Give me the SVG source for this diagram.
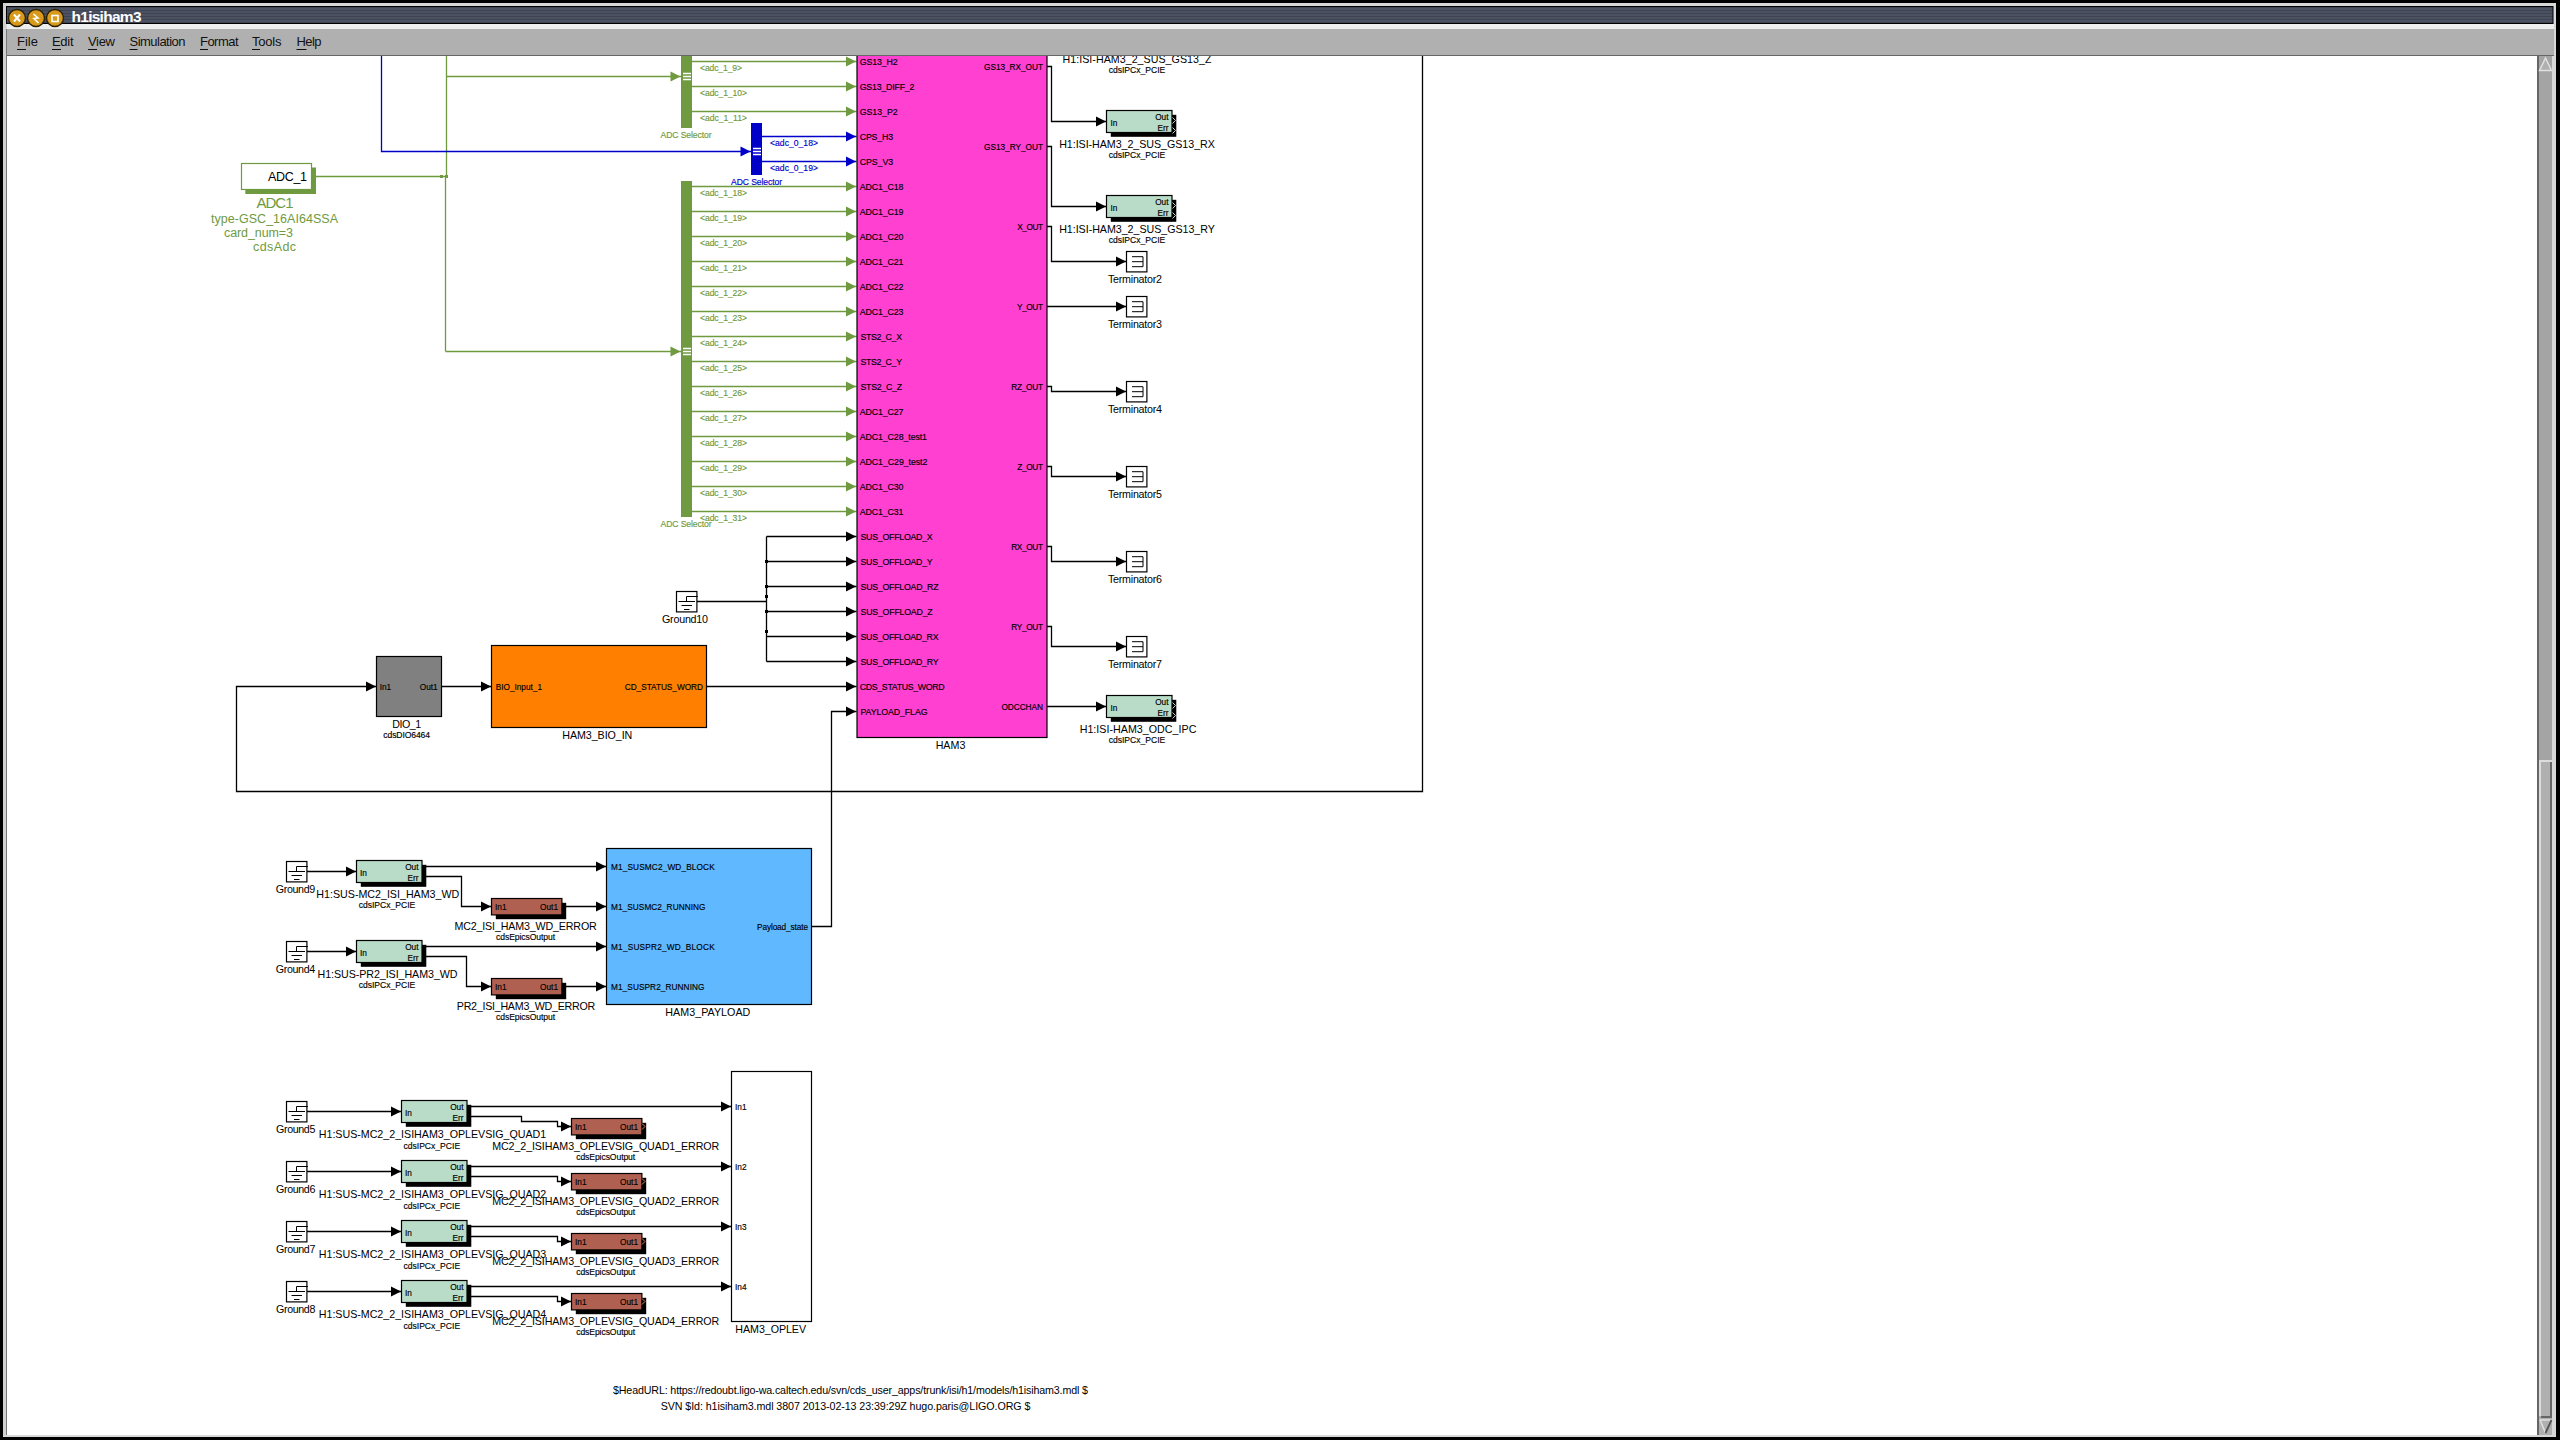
<svg xmlns="http://www.w3.org/2000/svg" width="2560" height="1440" viewBox="0 0 2560 1440">
<style>
text{font-family:"Liberation Sans",Arial,sans-serif;fill:#000}
.p{font-size:8.8px;stroke:#000;stroke-width:.15}
.r,g[transform] .p,#DIO_1 .p,#HAM3_OPLEV .p,#HAM3_BIO_IN .p,#HAM3_PAYLOAD .p{font-size:8.25px}
.m{font-size:8.6px;stroke:#000;stroke-width:.15}
.l{font-size:10.7px}
.e{text-anchor:end}
.c{text-anchor:middle}
.g{fill:#6f9a40}
.b{fill:#0000c8}
.gl{font-size:8.6px;fill:#6f9a40;stroke:#6f9a40;stroke-width:.15}
.bl{font-size:8.6px;fill:#0000c8;stroke:#0000c8;stroke-width:.15}
.w,.wg,.wb{fill:none;stroke-width:1.3}
.w{stroke:#000}
.wg{stroke:#6f9a40}
.wb{stroke:#0000c8}
.bx{stroke:#000;stroke-width:1.2}
.sym{fill:none;stroke:#000;stroke-width:1}
.chev{fill:none;stroke-width:1}
.menu{font-size:13px;fill:#111}
</style>
<defs>
<marker id="ab" markerUnits="userSpaceOnUse" markerWidth="12" markerHeight="11" refX="11" refY="5.5" orient="auto"><path d="M0.5,0.5 L10.5,5.5 L0.5,10.5 z" fill="#000"/></marker>
<marker id="ag" markerUnits="userSpaceOnUse" markerWidth="12" markerHeight="11" refX="11" refY="5.5" orient="auto"><path d="M0.5,0.5 L10.5,5.5 L0.5,10.5 z" fill="#6f9a40"/></marker>
<marker id="ac" markerUnits="userSpaceOnUse" markerWidth="12" markerHeight="11" refX="11" refY="5.5" orient="auto"><path d="M0.5,0.5 L10.5,5.5 L0.5,10.5 z" fill="#0000c8"/></marker>
<pattern id="stripes" width="4" height="3" patternUnits="userSpaceOnUse"><rect width="4" height="3" fill="#4c5262"/><rect y="1" width="4" height="1" fill="#3e4352"/></pattern>
<g id="ipcShape"><rect x="4.3" y="4.3" width="65.5" height="22" fill="#000"/><rect width="65.5" height="22" fill="#b8dcc8" class="bx"/></g>
<g id="redShape"><rect x="4.3" y="4.3" width="70.4" height="16.4" fill="#000"/><rect width="70.4" height="16.4" fill="#b06050" class="bx"/></g>
<g id="groundShape"><rect width="20.4" height="20.4" fill="#fff" class="bx"/><path class="sym" d="M21.4,5H10V10M2,10H18.5M5,14H15.5M7.5,18H13"/></g>
<g id="termShape"><rect width="20.4" height="20.4" fill="#fff" class="bx"/><path class="sym" d="M5.5,5.2H16.5V15.2H5.5M5.5,10.2H16.5"/></g>
<g id="chevOut"><path class="chev" stroke="#ccc" d="M66,7l3,3l-3,3M66,17l3,3l-3,3"/></g>
</defs>
<rect width="2560" height="1440" fill="#fff"/>

<g id="connectors">
<path class="wg" d="M446.5,50V176.5"/>
<path class="wg" d="M445.5,176.5V351.5" />
<path class="wg" d="M316,176.5H446.5"/>
<path class="wg" d="M446.5,76.5H681" marker-end="url(#ag)"/>
<path class="wg" d="M445.5,351.5H681" marker-end="url(#ag)"/>
<rect x="440" y="175" width="3" height="3" class="g"/><rect x="445" y="175" width="3" height="3" class="g"/>
<path class="wb" d="M381.5,50V151.5H751" marker-end="url(#ac)"/>
<path class="wg" d="M692,61.5H856.5" marker-end="url(#ag)"/>
<path class="wg" d="M692,86.5H856.5" marker-end="url(#ag)"/>
<path class="wg" d="M692,111.5H856.5" marker-end="url(#ag)"/>
<path class="wb" d="M761.5,136.5H856.5" marker-end="url(#ac)"/>
<path class="wb" d="M761.5,161.5H856.5" marker-end="url(#ac)"/>
<path class="wg" d="M692,186.5H856.5" marker-end="url(#ag)"/>
<path class="wg" d="M692,211.5H856.5" marker-end="url(#ag)"/>
<path class="wg" d="M692,236.5H856.5" marker-end="url(#ag)"/>
<path class="wg" d="M692,261.5H856.5" marker-end="url(#ag)"/>
<path class="wg" d="M692,286.5H856.5" marker-end="url(#ag)"/>
<path class="wg" d="M692,311.5H856.5" marker-end="url(#ag)"/>
<path class="wg" d="M692,336.5H856.5" marker-end="url(#ag)"/>
<path class="wg" d="M692,361.5H856.5" marker-end="url(#ag)"/>
<path class="wg" d="M692,386.5H856.5" marker-end="url(#ag)"/>
<path class="wg" d="M692,411.5H856.5" marker-end="url(#ag)"/>
<path class="wg" d="M692,436.5H856.5" marker-end="url(#ag)"/>
<path class="wg" d="M692,461.5H856.5" marker-end="url(#ag)"/>
<path class="wg" d="M692,486.5H856.5" marker-end="url(#ag)"/>
<path class="wg" d="M692,511.5H856.5" marker-end="url(#ag)"/>
<path class="w" d="M697,601.5H766.5"/>
<path class="w" d="M766.5,536.5V661.5"/>
<path class="w" d="M766.5,536.5H856.5" marker-end="url(#ab)"/>
<path class="w" d="M766.5,561.5H856.5" marker-end="url(#ab)"/>
<path class="w" d="M766.5,586.5H856.5" marker-end="url(#ab)"/>
<path class="w" d="M766.5,611.5H856.5" marker-end="url(#ab)"/>
<path class="w" d="M766.5,636.5H856.5" marker-end="url(#ab)"/>
<path class="w" d="M766.5,661.5H856.5" marker-end="url(#ab)"/>
<rect x="765" y="560" width="3" height="3"/><rect x="765" y="585" width="3" height="3"/><rect x="765" y="595" width="3" height="3"/><rect x="765" y="610" width="3" height="3"/><rect x="765" y="630" width="3" height="3"/>
<path class="w" d="M706.5,686.5H856.5" marker-end="url(#ab)"/>
<path class="w" d="M811.5,926.5H831.5V711.5H856.5" marker-end="url(#ab)"/>
<path class="w" d="M441.5,686.5H491.5" marker-end="url(#ab)"/>
<path class="w" d="M1422.5,50V791.5H236.5V686.5H376.5" marker-end="url(#ab)"/>
<path class="w" d="M1047,66.5H1051.5V121.5H1106.5" marker-end="url(#ab)"/>
<path class="w" d="M1047,146.5H1051.5V206.5H1106.5" marker-end="url(#ab)"/>
<path class="w" d="M1047,226.5H1051.5V261.5H1126.5" marker-end="url(#ab)"/>
<path class="w" d="M1047,306.5H1126.5" marker-end="url(#ab)"/>
<path class="w" d="M1047,386.5H1051.5V391.5H1126.5" marker-end="url(#ab)"/>
<path class="w" d="M1047,466.5H1051.5V476.5H1126.5" marker-end="url(#ab)"/>
<path class="w" d="M1047,546.5H1051.5V561.5H1126.5" marker-end="url(#ab)"/>
<path class="w" d="M1047,626.5H1051.5V646.5H1126.5" marker-end="url(#ab)"/>
<path class="w" d="M1047,706.5H1106.5" marker-end="url(#ab)"/>
<path class="w" d="M307,871.5H356.5" marker-end="url(#ab)"/>
<path class="w" d="M426,866.5H606.5" marker-end="url(#ab)"/>
<path class="w" d="M426,876.5H461.5V906.5H491.5" marker-end="url(#ab)"/>
<path class="w" d="M566,906.5H606.5" marker-end="url(#ab)"/>
<path class="w" d="M307,951.5H356.5" marker-end="url(#ab)"/>
<path class="w" d="M426,946.5H606.5" marker-end="url(#ab)"/>
<path class="w" d="M426,956.5H466.5V986.5H491.5" marker-end="url(#ab)"/>
<path class="w" d="M566,986.5H606.5" marker-end="url(#ab)"/>
<path class="w" d="M307,1111.5H401.5" marker-end="url(#ab)"/>
<path class="w" d="M471,1106.5H731.5" marker-end="url(#ab)"/>
<path class="w" d="M471,1116.5H521.5V1121.5H557.5V1126.5H571.5" marker-end="url(#ab)"/>
<path class="w" d="M307,1171.5H401.5" marker-end="url(#ab)"/>
<path class="w" d="M471,1166.5H731.5" marker-end="url(#ab)"/>
<path class="w" d="M471,1176.5H557.5V1181.5H571.5" marker-end="url(#ab)"/>
<path class="w" d="M307,1231.5H401.5" marker-end="url(#ab)"/>
<path class="w" d="M471,1226.5H731.5" marker-end="url(#ab)"/>
<path class="w" d="M471,1236.5H557.5V1241.5H571.5" marker-end="url(#ab)"/>
<path class="w" d="M307,1291.5H401.5" marker-end="url(#ab)"/>
<path class="w" d="M471,1286.5H731.5" marker-end="url(#ab)"/>
<path class="w" d="M471,1296.5H557.5V1301.5H571.5" marker-end="url(#ab)"/>
</g>

<g id="ADC1">
<rect x="245.3" y="167.5" width="70.7" height="26.5" class="g"/>
<rect x="241.5" y="163.5" width="70" height="26" fill="#fff" stroke="#6f9a40" stroke-width="1.2"/>
<text x="307" y="181" font-size="12.5" class="e" textLength="39">ADC_1</text>
<text x="275" y="208" font-size="15" class="c" style="fill:#6f9a40" textLength="37">ADC1</text>
<text x="211" y="222.5" font-size="12.5" style="fill:#6f9a40" textLength="127">type-GSC_16AI64SSA</text>
<text x="224" y="236.5" font-size="12.5" style="fill:#6f9a40" textLength="69">card_num=3</text>
<text x="253" y="250.5" font-size="12.5" style="fill:#6f9a40" textLength="43">cdsAdc</text>
</g>

<g id="selector1">
<rect x="681" y="50" width="11" height="78" class="g"/>
<path d="M683,73.5H691M683,76.5H691M683,79.5H691" stroke="#fff" stroke-width="1.4"/>
<text class="gl" x="700" y="70.5" textLength="42">&lt;adc_1_9&gt;</text>
<text class="gl" x="700" y="95.5" textLength="47">&lt;adc_1_10&gt;</text>
<text class="gl" x="700" y="120.5" textLength="47">&lt;adc_1_11&gt;</text>
<text class="gl c" x="686" y="138" textLength="51">ADC Selector</text>
</g>
<g id="selector2">
<rect x="751" y="123" width="11" height="52" class="b"/>
<path d="M753,148.5H761M753,151.5H761M753,154.5H761" stroke="#fff" stroke-width="1.4"/>
<text class="bl" x="770" y="145.5" textLength="48">&lt;adc_0_18&gt;</text>
<text class="bl" x="770" y="170.5" textLength="48">&lt;adc_0_19&gt;</text>
<text class="bl c" x="756.5" y="185" textLength="51">ADC Selector</text>
</g>
<g id="selector3">
<rect x="681" y="181" width="11" height="336" class="g"/>
<path d="M683,348.5H691M683,351.5H691M683,354.5H691" stroke="#fff" stroke-width="1.4"/>
<text class="gl" x="700" y="195.5" textLength="47">&lt;adc_1_18&gt;</text>
<text class="gl" x="700" y="220.5" textLength="47">&lt;adc_1_19&gt;</text>
<text class="gl" x="700" y="245.5" textLength="47">&lt;adc_1_20&gt;</text>
<text class="gl" x="700" y="270.5" textLength="47">&lt;adc_1_21&gt;</text>
<text class="gl" x="700" y="295.5" textLength="47">&lt;adc_1_22&gt;</text>
<text class="gl" x="700" y="320.5" textLength="47">&lt;adc_1_23&gt;</text>
<text class="gl" x="700" y="345.5" textLength="47">&lt;adc_1_24&gt;</text>
<text class="gl" x="700" y="370.5" textLength="47">&lt;adc_1_25&gt;</text>
<text class="gl" x="700" y="395.5" textLength="47">&lt;adc_1_26&gt;</text>
<text class="gl" x="700" y="420.5" textLength="47">&lt;adc_1_27&gt;</text>
<text class="gl" x="700" y="445.5" textLength="47">&lt;adc_1_28&gt;</text>
<text class="gl" x="700" y="470.5" textLength="47">&lt;adc_1_29&gt;</text>
<text class="gl" x="700" y="495.5" textLength="47">&lt;adc_1_30&gt;</text>
<text class="gl" x="700" y="520.5" textLength="47">&lt;adc_1_31&gt;</text>
<text class="gl c" x="686" y="527" textLength="51">ADC Selector</text>
</g>

<g id="HAM3">
<rect x="857" y="40" width="190" height="697.5" fill="#ff40d0" class="bx"/>
<text class="p" x="859.7" y="65" textLength="38">GS13_H2</text>
<text class="p" x="859.7" y="90" textLength="54.7">GS13_DIFF_2</text>
<text class="p" x="859.7" y="115" textLength="38">GS13_P2</text>
<text class="p" x="859.7" y="140" textLength="33.5">CPS_H3</text>
<text class="p" x="859.7" y="165" textLength="33.5">CPS_V3</text>
<text class="p" x="859.7" y="190" textLength="43.7">ADC1_C18</text>
<text class="p" x="859.7" y="215" textLength="43.7">ADC1_C19</text>
<text class="p" x="859.7" y="240" textLength="43.7">ADC1_C20</text>
<text class="p" x="859.7" y="265" textLength="43.7">ADC1_C21</text>
<text class="p" x="859.7" y="290" textLength="43.7">ADC1_C22</text>
<text class="p" x="859.7" y="315" textLength="43.7">ADC1_C23</text>
<text class="p" x="860.5" y="340" textLength="41.5">STS2_C_X</text>
<text class="p" x="860.5" y="365" textLength="41.5">STS2_C_Y</text>
<text class="p" x="860.5" y="390" textLength="41.5">STS2_C_Z</text>
<text class="p" x="859.7" y="415" textLength="43.7">ADC1_C27</text>
<text class="p" x="859.7" y="440" textLength="67.3">ADC1_C28_test1</text>
<text class="p" x="859.7" y="465" textLength="67.7">ADC1_C29_test2</text>
<text class="p" x="859.7" y="490" textLength="43.7">ADC1_C30</text>
<text class="p" x="859.7" y="515" textLength="43.7">ADC1_C31</text>
<text class="p" x="860.5" y="540" textLength="72.2">SUS_OFFLOAD_X</text>
<text class="p" x="860.5" y="565" textLength="72.2">SUS_OFFLOAD_Y</text>
<text class="p" x="860.5" y="590" textLength="78">SUS_OFFLOAD_RZ</text>
<text class="p" x="860.5" y="615" textLength="72.2">SUS_OFFLOAD_Z</text>
<text class="p" x="860.5" y="640" textLength="78">SUS_OFFLOAD_RX</text>
<text class="p" x="860.5" y="665" textLength="78">SUS_OFFLOAD_RY</text>
<text class="p" x="859.7" y="690" textLength="85">CDS_STATUS_WORD</text>
<text class="p" x="860.5" y="715" textLength="67">PAYLOAD_FLAG</text>
<text class="p r e" x="1043" y="70.2" textLength="59">GS13_RX_OUT</text>
<text class="p r e" x="1043" y="150" textLength="59">GS13_RY_OUT</text>
<text class="p r e" x="1043" y="230.2" textLength="25.7">X_OUT</text>
<text class="p r e" x="1043" y="310" textLength="26">Y_OUT</text>
<text class="p r e" x="1043" y="390" textLength="31.8">RZ_OUT</text>
<text class="p r e" x="1043" y="470" textLength="25.7">Z_OUT</text>
<text class="p r e" x="1043" y="550" textLength="31.8">RX_OUT</text>
<text class="p r e" x="1043" y="630" textLength="31.8">RY_OUT</text>
<text class="p r e" x="1043" y="710" textLength="41.6">ODCCHAN</text>
<text class="l c" x="950.5" y="749">HAM3</text>
</g>

<g id="IPC_GS13_Z">
<text class="l c" x="1137" y="63.3" textLength="149">H1:ISI-HAM3_2_SUS_GS13_Z</text>
<text class="m c" x="1137" y="73" textLength="56.7">cdsIPCx_PCIE</text>
</g>
<g id="IPC_GS13_RX" transform="translate(1106.5 110.5)">
<use href="#ipcShape"/><use href="#chevOut"/>
<text class="p" x="4" y="15">In</text><text class="p e" x="62" y="9.5">Out</text><text class="p e" x="62" y="20">Err</text>
<text class="l c" x="30.5" y="37.5" textLength="155.7">H1:ISI-HAM3_2_SUS_GS13_RX</text>
<text class="m c" x="30.5" y="47" textLength="56.7">cdsIPCx_PCIE</text>
</g>
<g id="IPC_GS13_RY" transform="translate(1106.5 195.5)">
<use href="#ipcShape"/><use href="#chevOut"/>
<text class="p" x="4" y="15">In</text><text class="p e" x="62" y="9.5">Out</text><text class="p e" x="62" y="20">Err</text>
<text class="l c" x="30.5" y="37.5" textLength="155.7">H1:ISI-HAM3_2_SUS_GS13_RY</text>
<text class="m c" x="30.5" y="47" textLength="56.7">cdsIPCx_PCIE</text>
</g>
<g id="IPC_ODC" transform="translate(1106.5 695.5)">
<use href="#ipcShape"/><use href="#chevOut"/>
<text class="p" x="4" y="15">In</text><text class="p e" x="62" y="9.5">Out</text><text class="p e" x="62" y="20">Err</text>
<text class="l c" x="31.5" y="37.5" textLength="116.7">H1:ISI-HAM3_ODC_IPC</text>
<text class="m c" x="30.5" y="47.5" textLength="56.7">cdsIPCx_PCIE</text>
</g>

<g id="Terminator2" transform="translate(1126.5 251.5)"><use href="#termShape"/><text class="l c" x="8.5" y="31.5" textLength="54">Terminator2</text></g>
<g id="Terminator3" transform="translate(1126.5 296.5)"><use href="#termShape"/><text class="l c" x="8.5" y="31.5" textLength="54">Terminator3</text></g>
<g id="Terminator4" transform="translate(1126.5 381.5)"><use href="#termShape"/><text class="l c" x="8.5" y="31.5" textLength="54">Terminator4</text></g>
<g id="Terminator5" transform="translate(1126.5 466.5)"><use href="#termShape"/><text class="l c" x="8.5" y="31.5" textLength="54">Terminator5</text></g>
<g id="Terminator6" transform="translate(1126.5 551.5)"><use href="#termShape"/><text class="l c" x="8.5" y="31.5" textLength="54">Terminator6</text></g>
<g id="Terminator7" transform="translate(1126.5 636.5)"><use href="#termShape"/><text class="l c" x="8.5" y="31.5" textLength="54">Terminator7</text></g>

<g id="Ground10" transform="translate(676.5 591.5)"><use href="#groundShape"/><text class="l c" x="8.5" y="31.5" textLength="46">Ground10</text></g>

<g id="DIO_1">
<rect x="376.5" y="656.5" width="65" height="60" fill="#808080" class="bx"/>
<text class="p" x="379.7" y="690">In1</text><text class="p e" x="437.7" y="690">Out1</text>
<text class="l c" x="406.7" y="728" textLength="29">DIO_1</text>
<text class="m c" x="406.7" y="738" textLength="46.7">cdsDIO6464</text>
</g>
<g id="HAM3_BIO_IN">
<rect x="491.5" y="645.5" width="215" height="82" fill="#ff8000" class="bx"/>
<text class="p" x="495.7" y="690" textLength="46.3">BIO_Input_1</text>
<text class="p e" x="703" y="690" textLength="78.3">CD_STATUS_WORD</text>
<text class="l c" x="597.3" y="739" textLength="70">HAM3_BIO_IN</text>
</g>

<g id="Ground9" transform="translate(286.5 861.5)"><use href="#groundShape"/><text class="l c" x="9" y="31.5" textLength="39.3">Ground9</text></g>
<g id="IPC_MC2_WD" transform="translate(356.5 860.5)">
<use href="#ipcShape"/>
<text class="p" x="3.5" y="15">In</text><text class="p e" x="62" y="9.5">Out</text><text class="p e" x="62" y="20">Err</text>
<text class="l c" x="31.3" y="37.5" textLength="143">H1:SUS-MC2_ISI_HAM3_WD</text>
<text class="m c" x="30.5" y="47.5" textLength="56.7">cdsIPCx_PCIE</text>
</g>
<g id="MC2_ISI_HAM3_WD_ERROR" transform="translate(491.5 898.5)">
<use href="#redShape"/>
<text class="p" x="3.5" y="11.5">In1</text><text class="p e" x="66.5" y="11.5">Out1</text>
<text class="l c" x="34.1" y="31.5" textLength="142.4">MC2_ISI_HAM3_WD_ERROR</text>
<text class="m c" x="34.1" y="41.5" textLength="59">cdsEpicsOutput</text>
</g>
<g id="Ground4" transform="translate(286.5 941.5)"><use href="#groundShape"/><text class="l c" x="9" y="31.5" textLength="39.3">Ground4</text></g>
<g id="IPC_PR2_WD" transform="translate(356.5 940.5)">
<use href="#ipcShape"/>
<text class="p" x="3.5" y="15">In</text><text class="p e" x="62" y="9.5">Out</text><text class="p e" x="62" y="20">Err</text>
<text class="l c" x="31" y="37.5" textLength="140">H1:SUS-PR2_ISI_HAM3_WD</text>
<text class="m c" x="30.5" y="47.5" textLength="56.7">cdsIPCx_PCIE</text>
</g>
<g id="PR2_ISI_HAM3_WD_ERROR" transform="translate(491.5 978.5)">
<use href="#redShape"/>
<text class="p" x="3.5" y="11.5">In1</text><text class="p e" x="66.5" y="11.5">Out1</text>
<text class="l c" x="34.5" y="31.5" textLength="138.5">PR2_ISI_HAM3_WD_ERROR</text>
<text class="m c" x="34.1" y="41.5" textLength="59">cdsEpicsOutput</text>
</g>
<g id="HAM3_PAYLOAD">
<rect x="606.5" y="848.5" width="205" height="156" fill="#60b8ff" class="bx"/>
<text class="p" x="611" y="870.2" textLength="103.7">M1_SUSMC2_WD_BLOCK</text>
<text class="p" x="611" y="910.2" textLength="94.5">M1_SUSMC2_RUNNING</text>
<text class="p" x="611" y="950.2" textLength="103.7">M1_SUSPR2_WD_BLOCK</text>
<text class="p" x="611" y="990.2" textLength="93.5">M1_SUSPR2_RUNNING</text>
<text class="p e" x="808" y="930.2" textLength="51">Payload_state</text>
<text class="l c" x="707.8" y="1016" textLength="85">HAM3_PAYLOAD</text>
</g>

<g id="Ground5" transform="translate(286.5 1101.5)"><use href="#groundShape"/><text class="l c" x="9.2" y="31.5" textLength="39.3">Ground5</text></g>
<g id="Ground6" transform="translate(286.5 1161.5)"><use href="#groundShape"/><text class="l c" x="9.2" y="31.5" textLength="39.3">Ground6</text></g>
<g id="Ground7" transform="translate(286.5 1221.5)"><use href="#groundShape"/><text class="l c" x="9.2" y="31.5" textLength="39.3">Ground7</text></g>
<g id="Ground8" transform="translate(286.5 1281.5)"><use href="#groundShape"/><text class="l c" x="9.2" y="31.5" textLength="39.3">Ground8</text></g>

<g id="IPC_QUAD1" transform="translate(401.5 1100.5)">
<use href="#ipcShape"/>
<text class="p" x="3.5" y="15">In</text><text class="p e" x="62" y="9.5">Out</text><text class="p e" x="62" y="20">Err</text>
<text class="l c" x="31" y="37.5" textLength="227.5">H1:SUS-MC2_2_ISIHAM3_OPLEVSIG_QUAD1</text>
<text class="m c" x="30.3" y="48" textLength="56.7">cdsIPCx_PCIE</text>
</g>
<g id="IPC_QUAD2" transform="translate(401.5 1160.5)">
<use href="#ipcShape"/>
<text class="p" x="3.5" y="15">In</text><text class="p e" x="62" y="9.5">Out</text><text class="p e" x="62" y="20">Err</text>
<text class="l c" x="31" y="37.5" textLength="227.5">H1:SUS-MC2_2_ISIHAM3_OPLEVSIG_QUAD2</text>
<text class="m c" x="30.3" y="48" textLength="56.7">cdsIPCx_PCIE</text>
</g>
<g id="IPC_QUAD3" transform="translate(401.5 1220.5)">
<use href="#ipcShape"/>
<text class="p" x="3.5" y="15">In</text><text class="p e" x="62" y="9.5">Out</text><text class="p e" x="62" y="20">Err</text>
<text class="l c" x="31" y="37.5" textLength="227.5">H1:SUS-MC2_2_ISIHAM3_OPLEVSIG_QUAD3</text>
<text class="m c" x="30.3" y="48" textLength="56.7">cdsIPCx_PCIE</text>
</g>
<g id="IPC_QUAD4" transform="translate(401.5 1280.5)">
<use href="#ipcShape"/>
<text class="p" x="3.5" y="15">In</text><text class="p e" x="62" y="9.5">Out</text><text class="p e" x="62" y="20">Err</text>
<text class="l c" x="31" y="37.5" textLength="227.5">H1:SUS-MC2_2_ISIHAM3_OPLEVSIG_QUAD4</text>
<text class="m c" x="30.3" y="48" textLength="56.7">cdsIPCx_PCIE</text>
</g>

<g id="ERR_QUAD1" transform="translate(571.5 1118.5)">
<use href="#redShape"/><path class="chev" stroke="#e08060" d="M70.5,5l3,3l-3,3"/>
<text class="p" x="3.5" y="11.5">In1</text><text class="p e" x="66.5" y="11.5">Out1</text>
<text class="l c" x="34.2" y="31.5" textLength="227">MC2_2_ISIHAM3_OPLEVSIG_QUAD1_ERROR</text>
<text class="m c" x="34.2" y="41" textLength="59">cdsEpicsOutput</text>
</g>
<g id="ERR_QUAD2" transform="translate(571.5 1173.5)">
<use href="#redShape"/><path class="chev" stroke="#e08060" d="M70.5,5l3,3l-3,3"/>
<text class="p" x="3.5" y="11.5">In1</text><text class="p e" x="66.5" y="11.5">Out1</text>
<text class="l c" x="34.2" y="31.5" textLength="227">MC2_2_ISIHAM3_OPLEVSIG_QUAD2_ERROR</text>
<text class="m c" x="34.2" y="41" textLength="59">cdsEpicsOutput</text>
</g>
<g id="ERR_QUAD3" transform="translate(571.5 1233.5)">
<use href="#redShape"/><path class="chev" stroke="#e08060" d="M70.5,5l3,3l-3,3"/>
<text class="p" x="3.5" y="11.5">In1</text><text class="p e" x="66.5" y="11.5">Out1</text>
<text class="l c" x="34.2" y="31.5" textLength="227">MC2_2_ISIHAM3_OPLEVSIG_QUAD3_ERROR</text>
<text class="m c" x="34.2" y="41" textLength="59">cdsEpicsOutput</text>
</g>
<g id="ERR_QUAD4" transform="translate(571.5 1293.5)">
<use href="#redShape"/><path class="chev" stroke="#e08060" d="M70.5,5l3,3l-3,3"/>
<text class="p" x="3.5" y="11.5">In1</text><text class="p e" x="66.5" y="11.5">Out1</text>
<text class="l c" x="34.2" y="31.5" textLength="227">MC2_2_ISIHAM3_OPLEVSIG_QUAD4_ERROR</text>
<text class="m c" x="34.2" y="41" textLength="59">cdsEpicsOutput</text>
</g>

<g id="HAM3_OPLEV">
<rect x="731.5" y="1071.5" width="80" height="250" fill="#fff" class="bx"/>
<text class="p" x="735" y="1110">In1</text>
<text class="p" x="735" y="1170">In2</text>
<text class="p" x="735" y="1230">In3</text>
<text class="p" x="735" y="1290">In4</text>
<text class="l c" x="770.7" y="1333" textLength="70.7">HAM3_OPLEV</text>
</g>

<g id="footer">
<text x="613" y="1394" font-size="10.7" textLength="475">$HeadURL: https://redoubt.ligo-wa.caltech.edu/svn/cds_user_apps/trunk/isi/h1/models/h1isiham3.mdl $</text>
<text x="660.7" y="1410" font-size="10.7" textLength="369.7">SVN $Id: h1isiham3.mdl 3807 2013-02-13 23:39:29Z hugo.paris@LIGO.ORG $</text>
</g>

<g id="window">
<rect x="0" y="0" width="2560" height="3" fill="#000"/>
<rect x="0" y="3" width="2556" height="26" fill="#d8d8d8"/>
<rect x="6" y="6" width="2547.5" height="18" fill="#000"/>
<rect x="7" y="7" width="2545.5" height="16" fill="url(#stripes)"/>
<rect x="7" y="24" width="2547" height="5" fill="#eeeeee"/>
<rect x="7" y="29" width="2547" height="26" fill="#b0b0b0"/>
<rect x="7" y="55" width="2547" height="1" fill="#666"/>
<rect x="0" y="0" width="3" height="1440" fill="#000"/>
<rect x="3" y="3" width="3" height="1434" fill="#d0d0d0"/>
<rect x="6" y="29" width="1" height="1406" fill="#777"/>
<rect x="3" y="1435" width="2553" height="2" fill="#d8d8d8"/>
<rect x="0" y="1437" width="2560" height="3" fill="#000"/>
<rect x="2556" y="0" width="4" height="1440" fill="#000"/>
<rect x="2554" y="3" width="2" height="1434" fill="#d8d8d8"/>
<rect x="2537" y="56" width="2" height="1379" fill="#666"/>
<rect x="2539" y="56" width="13" height="704" fill="#a4a4a4"/>
<rect x="2552" y="56" width="2" height="1379" fill="#d8d8d8"/>
<rect x="2539" y="760" width="13" height="658" fill="#b0b0b0"/>
<path d="M2539,760H2552V762H2541V1416H2539z" fill="#dcdcdc"/>
<path d="M2550,762H2552V1418H2541V1416H2550z" fill="#666"/>
<rect x="2539" y="1418" width="13" height="17" fill="#b0b0b0"/>
<path d="M2539.5,70.5L2545.5,58L2551.5,70.5z" fill="#b0b0b0" stroke="#e0e0e0" stroke-width="1.5"/>
<path d="M2539.5,1420L2551.5,1420" stroke="#e0e0e0" stroke-width="1.5"/>
<path d="M2540,1420L2545.5,1433" stroke="#e0e0e0" stroke-width="1.5" fill="none"/>
<path d="M2551.5,1420L2545.5,1433" stroke="#555" stroke-width="1.8" fill="none"/>
<circle cx="17" cy="18" r="8.5" fill="#d99a1c" stroke="#2a2000" stroke-width="1.4"/>
<circle cx="36" cy="18" r="8.5" fill="#d99a1c" stroke="#2a2000" stroke-width="1.4"/>
<circle cx="55" cy="18" r="8.5" fill="#d99a1c" stroke="#2a2000" stroke-width="1.4"/>
<path d="M14,14.5L20,21.5M20,14.5L14,21.5" stroke="#fff" stroke-width="2" fill="none"/>
<path d="M33.5,14L38,18L34,18.5L38.5,23" stroke="#fff" stroke-width="1.6" fill="none"/>
<rect x="52" y="15.5" width="6" height="6" fill="none" stroke="#fff" stroke-width="1.6"/>
<text x="71.5" y="21.5" font-size="15.5" font-weight="700" style="fill:#fff" textLength="70">h1isiham3</text>
<text class="menu" x="17" y="46" textLength="21">File</text>
<text class="menu" x="52" y="46" textLength="21.5">Edit</text>
<text class="menu" x="88" y="46" textLength="27">View</text>
<text class="menu" x="129.5" y="46" textLength="56">Simulation</text>
<text class="menu" x="200" y="46" textLength="38.5">Format</text>
<text class="menu" x="252" y="46" textLength="29.5">Tools</text>
<text class="menu" x="296.5" y="46" textLength="25">Help</text>
<path d="M17,49.5h9M52,49.5h9M88,49.5h9M129.5,49.5h8M200,49.5h8M252,49.5h8M296.5,49.5h10" stroke="#111" stroke-width="1.2"/>
</g>
</svg>
